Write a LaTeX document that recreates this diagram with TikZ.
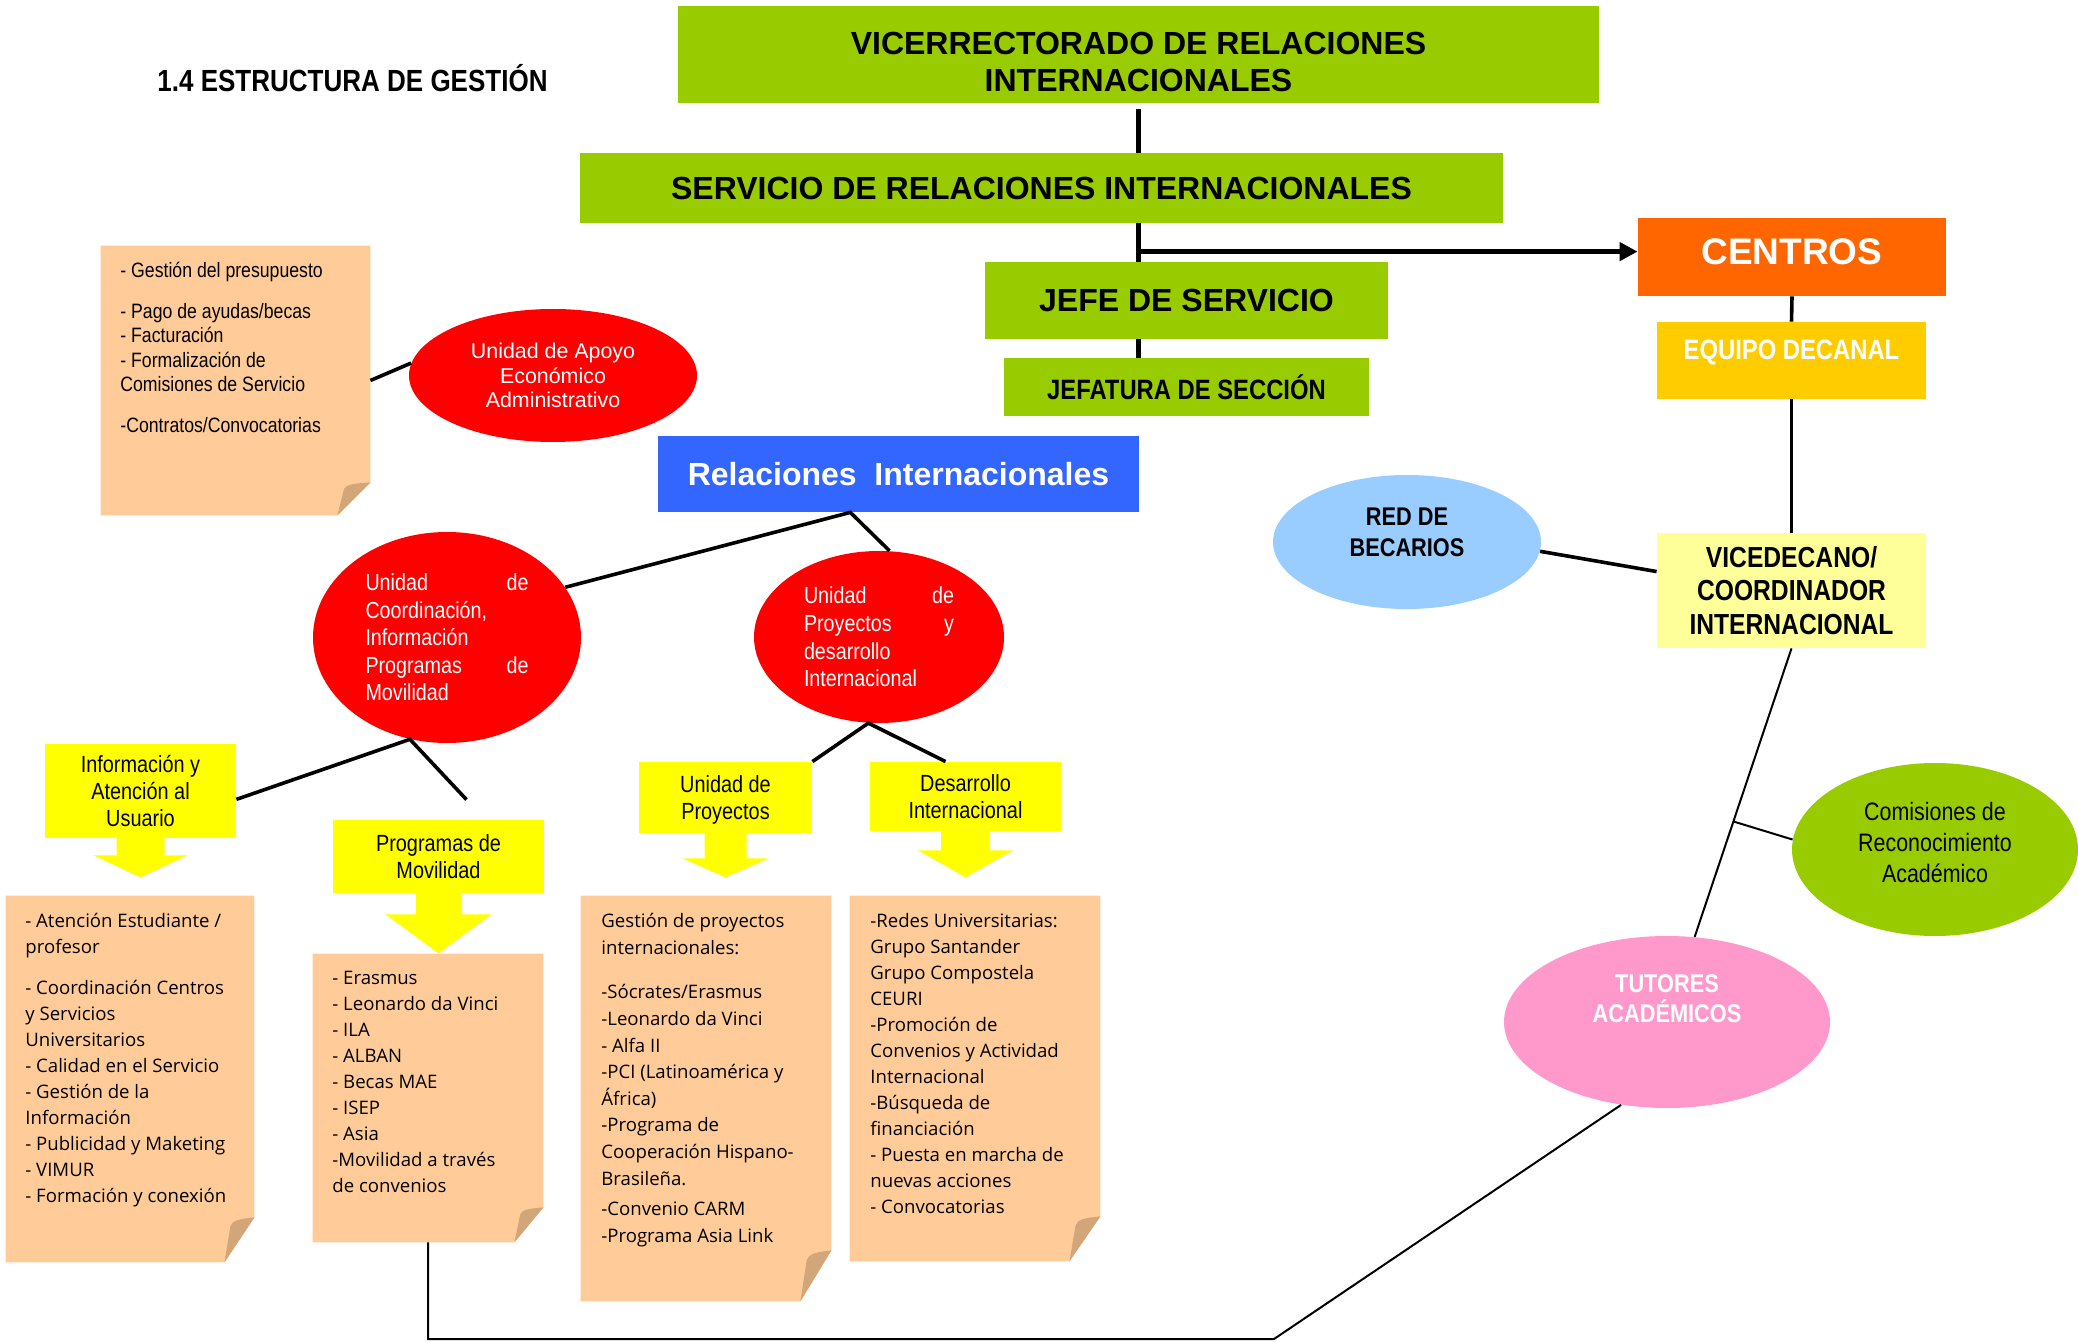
\documentclass[tikz,border=0pt]{standalone}
\usepackage{fontspec}
\setmainfont{Liberation Sans}
\newfontfamily\estrecha{Liberation Sans}[FakeStretch=0.85]
\newfontfamily\comica{Open Sans}
\usetikzlibrary{calc, shapes.geometric, arrows.meta}

\definecolor{verde}{HTML}{99CC00}
\definecolor{naranja}{HTML}{FF6600}
\definecolor{oro}{HTML}{FFCC00}
\definecolor{crema}{HTML}{FFFF99}
\definecolor{celeste}{HTML}{99CCFF}
\definecolor{rosa}{HTML}{FF99CC}
\definecolor{rojo}{HTML}{FF0000}
\definecolor{azul}{HTML}{3366FF}
\definecolor{amarillo}{HTML}{FFFF00}
\definecolor{papel}{HTML}{FFCC99}
\definecolor{pliegue}{HTML}{D2A679}

% hoja con esquina doblada: nodo, ancho y alto del doblez
\newcommand{\hoja}[3]{%
  \fill[papel] (#1.north west) -- (#1.north east) -- ($(#1.south east)+(0,-#3)$)
    -- ($(#1.south east)+(-#2,0)$) -- (#1.south west) -- cycle;
  \fill[pliegue] ($(#1.south east)+(0,-#3)$)
    .. controls ($(#1.south east)+(-0.5*#2,-0.97*#3)$) and ($(#1.south east)+(-0.75*#2,-0.93*#3)$)
    .. ($(#1.south east)+(-0.8*#2,-0.8*#3)$) -- ($(#1.south east)+(-#2,0)$) -- cycle;
}
% flecha gruesa bajo una caja: nodo, semiancho y largo del tallo, semiancho y largo de la punta
\newcommand{\flecha}[5]{%
  \fill[amarillo] ($(#1.south)+(-#2,-1)$) -- ($(#1.south)+(-#2,#3)$) -- ($(#1.south)+(-#4,#3)$)
    -- ($(#1.south)+(0,#3+#5)$) -- ($(#1.south)+(#4,#3)$) -- ($(#1.south)+(#2,#3)$)
    -- ($(#1.south)+(#2,-1)$) -- cycle;
}

\begin{document}
\begin{tikzpicture}[x=0.5pt, y=-0.5pt,
    tam/.style 2 args={minimum width=#1*0.5pt, minimum height=#2*0.5pt},
    caja/.style={rectangle, inner sep=0pt, align=center},
    globo/.style={ellipse, inner sep=0pt, align=center},
    verdecaja/.style={caja, fill=verde, font=\bfseries\fontsize{16}{18.5}\selectfont},
    amarcaja/.style={caja, fill=amarillo, text depth=0pt, font=\estrecha\fontsize{11.7}{13.6}\selectfont},
    rojoglobo/.style={globo, fill=rojo, text=white},
    nota/.style={rectangle, inner sep=0pt},
    textonota/.style={anchor=north west, inner sep=0pt, align=left, font=\comica\fontsize{9.3}{13}\selectfont},
    troncal/.style={line width=2.5pt},
    linea/.style={line width=1.8pt},
    fina/.style={line width=1pt}
  ]
  \useasboundingbox[fill=white] (0,0) rectangle (2078,1342);

  \node[inner sep=0pt, font=\estrecha\bfseries\fontsize{15.3}{18}\selectfont] (titulo) at (352.5,78) {1.4 ESTRUCTURA DE GESTIÓN};

  % organigrama central
  \node[verdecaja, tam={921}{97}] (vice) at (1138.5,54.5) {};
  \node[caja, font=\bfseries\fontsize{16}{18.5}\selectfont] (viceTxt) at (1138.5,61.5) {VICERRECTORADO DE RELACIONES\\INTERNACIONALES};
  \node[verdecaja, tam={923}{70}] (serv) at (1041.5,188) {SERVICIO DE RELACIONES INTERNACIONALES};
  \node[verdecaja, tam={403}{77}] (jefe) at (1186.5,300.5) {JEFE DE SERVICIO};
  \node[verdecaja, tam={365}{58}, font=\estrecha\bfseries\fontsize{14}{16}\selectfont] (jefa) at (1186.5,387) {JEFATURA DE SECCIÓN};

  % centros
  \node[caja, tam={308}{78}, fill=naranja, text=white, text depth=5pt, font=\bfseries\fontsize{18.5}{20}\selectfont] (centros) at (1792,257) {CENTROS};
  \node[caja, tam={269}{77}, fill=oro] (equipo) at (1791.5,360.5) {};
  \node[caja, text=white, font=\estrecha\bfseries\fontsize{14}{16}\selectfont] (equipoTxt) at (1791.5,352) {EQUIPO DECANAL};
  \node[caja, tam={269}{115}, fill=crema, font=\estrecha\bfseries\fontsize{14.5}{16.7}\selectfont] (vdc) at (1791.5,590.5) {VICEDECANO/\\COORDINADOR\\INTERNACIONAL};
  \node[globo, tam={268}{134}, fill=celeste] (red) at (1407,542) {};
  \node[caja, font=\estrecha\bfseries\fontsize{12.8}{15.3}\selectfont] (redTxt) at (1407,532.5) {RED DE\\BECARIOS};
  \node[globo, tam={286}{173}, fill=verde] (comis) at (1935,849.5) {};
  \node[caja, font=\estrecha\fontsize{12.6}{15.5}\selectfont] (comisTxt) at (1935,842) {Comisiones de\\Reconocimiento\\Académico};
  \node[globo, tam={326}{172}, fill=rosa] (tut) at (1667,1022) {};
  \node[caja, text=white, font=\estrecha\bfseries\fontsize{12.8}{15.3}\selectfont] (tutTxt) at (1667,998.5) {TUTORES\\ACADÉMICOS};

  % unidades
  \node[caja, tam={481}{76}, fill=azul, text=white, font=\bfseries\fontsize{16}{18}\selectfont] (ri) at (898.5,474) {Relaciones\ \ Internacionales};
  \node[rojoglobo, tam={288}{133}, font=\fontsize{10.7}{12.3}\selectfont] (apoyo) at (553,375.5) {Unidad de Apoyo\\Económico\\Administrativo};
  \node[rojoglobo, tam={268}{211}, text width=81.5pt, align=left, font=\estrecha\fontsize{11.6}{13.7}\selectfont] (coord) at (447,637.5) {Unidad\hfill de\\Coordinación,\\Información\\Programas\hfill de\\Movilidad};
  \node[rojoglobo, tam={250}{172}, text width=75pt, align=left, font=\estrecha\fontsize{11.6}{13.9}\selectfont] (proy) at (879,637) {Unidad\hfill de\\Proyectos\hfill y\\desarrollo\\Internacional};

  \node[amarcaja, tam={191}{94}] (info) at (140.5,791) {Información y\\Atención al\\Usuario};
  \node[amarcaja, tam={211}{73}] (prog) at (438.5,856.5) {Programas de\\Movilidad};
  \node[amarcaja, tam={173}{71}] (udp) at (725.5,797.5) {Unidad de\\Proyectos};
  \node[amarcaja, tam={191}{69}] (di) at (965.5,796.5) {Desarrollo\\Internacional};
  \flecha{info}{24}{17}{47}{22}
  \flecha{prog}{22.5}{21}{53}{39}
  \flecha{udp}{21}{25}{43}{19}
  \flecha{di}{24.5}{19}{47.5}{27}

  % notas
  \node[nota, tam={269}{269}] (nota1) at (235.5,380.5) {};
  \hoja{nota1}{33}{33}
  \node[textonota, font=\estrecha\fontsize{10.4}{12.25}\selectfont] (txt1) at (120,262) {- Gestión del presupuesto\\[8pt]- Pago de ayudas/becas\\- Facturación\\- Formalización de\\Comisiones de Servicio\\[8pt]-Contratos/Convocatorias};

  \node[nota, tam={248}{366}] (nota2) at (130,1079) {};
  \hoja{nota2}{30}{45}
  \node[textonota] (txt2) at (25,913) {- Atención Estudiante /\\profesor\\[7.5pt]- Coordinación Centros\\y Servicios\\Universitarios\\- Calidad en el Servicio\\- Gestión de la\\Información\\- Publicidad y Maketing\\- VIMUR\\- Formación y conexión};

  \node[nota, tam={230}{288}] (nota3) at (428,1098) {};
  \hoja{nota3}{29}{35}
  \node[textonota] (txt3) at (332,971) {- Erasmus\\- Leonardo da Vinci\\- ILA\\- ALBAN\\- Becas MAE\\- ISEP\\- Asia\\-Movilidad a través\\de convenios};

  \node[nota, tam={250}{405}] (nota4) at (706,1098.5) {};
  \hoja{nota4}{31}{51}
  \node[textonota, font=\comica\fontsize{9.3}{13.3}\selectfont] (txt4) at (601,913) {Gestión de proyectos\\internacionales:\\[9pt]-Sócrates/Erasmus\\-Leonardo da Vinci\\- Alfa II\\-PCI (Latinoamérica y\\África)\\-Programa de\\Cooperación Hispano-\\Brasileña.\\[2pt]-Convenio CARM\\-Programa Asia Link};

  \node[nota, tam={250}{365}] (nota5) at (975,1078.5) {};
  \hoja{nota5}{31}{45}
  \node[textonota] (txt5) at (870,913) {-Redes Universitarias:\\Grupo Santander\\Grupo Compostela\\CEURI\\-Promoción de\\Convenios y Actividad\\Internacional\\-Búsqueda de\\financiación\\- Puesta en marcha de\\nuevas acciones\\- Convocatorias};

  % conectores
  \draw[troncal, shorten <=3pt] (vice.south) -- (vice.south |- serv.north);
  \draw[troncal] (vice.south |- serv.south) -- (vice.south |- jefe.north);
  \draw[troncal] (vice.south |- jefe.south) -- (vice.south |- jefa.north);
  \draw[line width=2.8pt, -{Triangle[length=9pt,width=9pt]}] (vice.south |- centros.178) -- (centros.178);

  \draw[linea] (centros.south) -- (equipo.north);
  \draw[linea] (equipo.south) -- (vdc.north);
  \draw[linea] (red.-4) -- (vdc.172);
  \draw[fina] (vdc.south) -- (tut.72);
  \coordinate (cJ) at ($(vdc.south)!0.6!(tut.72)$);
  \draw[fina] (cJ) -- (comis.176);
  \coordinate (esq) at (1274,1339);
  \draw[fina] (tut.241) -- (esq) -- (esq -| nota3.south) -- (nota3.south);

  \draw[linea] (nota1.east) -- (apoyo.175);
  \coordinate (riJ) at ($(ri.south west)!0.4!(ri.south east)$);
  \draw[linea] (coord.23) -- (riJ) -- (proy.83);
  \coordinate (movJ) at ($(prog.north)+(28,-20)$);
  \draw[linea] (info.-5) -- (coord.250) -- (movJ);
  \draw[linea] (udp.north east) -- (proy.263) -- ($(di.north)+(-20,0)$);
\end{tikzpicture}
\end{document}
